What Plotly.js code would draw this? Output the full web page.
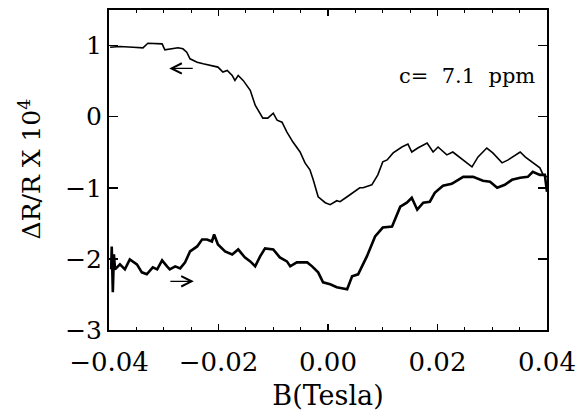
<!DOCTYPE html>
<html>
<head>
<meta charset="utf-8">
<script src="https://cdn.plot.ly/plotly-3.0.1.min.js"></script>
<style>html,body{margin:0;padding:0;background:#fff;}#chart{width:579px;height:411px;}</style>
</head>
<body>
<div id="chart"></div>
<script>
// Upper curve (sweep toward negative field, "←")
const upperB = [-0.0398,-0.0380,-0.0356,-0.0338,-0.0329,-0.0303,-0.0298,-0.0285,-0.0274,-0.0265,-0.0258,-0.0252,-0.0239,-0.0228,-0.0216,-0.0201,-0.0192,-0.0184,-0.0175,-0.0170,-0.0164,-0.0155,-0.0142,-0.0133,-0.0119,-0.0110,-0.0100,-0.0093,-0.0084,-0.0075,-0.0064,-0.0051,-0.0042,-0.0033,-0.0027,-0.0018,-0.0005,0.0004,0.0016,0.0022,0.0035,0.0046,0.0058,0.0064,0.0080,0.0091,0.0100,0.0108,0.0119,0.0135,0.0146,0.0153,0.0164,0.0181,0.0192,0.0201,0.0217,0.0228,0.0247,0.0263,0.0274,0.0290,0.0301,0.0318,0.0329,0.0351,0.0360,0.0374,0.0387,0.0393,0.0400];
const upperR = [0.976,0.986,0.976,0.968,1.032,1.024,0.940,0.954,0.968,0.954,0.906,0.814,0.766,0.744,0.720,0.697,0.627,0.650,0.580,0.510,0.580,0.510,0.371,0.161,-0.021,-0.021,0.049,-0.049,-0.077,-0.217,-0.357,-0.497,-0.650,-0.748,-0.888,-1.126,-1.210,-1.238,-1.182,-1.196,-1.126,-1.070,-1.000,-1.000,-0.958,-0.818,-0.636,-0.608,-0.510,-0.427,-0.385,-0.497,-0.441,-0.371,-0.497,-0.427,-0.538,-0.497,-0.608,-0.706,-0.566,-0.441,-0.510,-0.650,-0.608,-0.497,-0.566,-0.650,-0.720,-0.818,-0.846];

// Lower curve (sweep toward positive field, "→")
const lowerB = [-0.0396,-0.0395,-0.0393,-0.0391,-0.0389,-0.0380,-0.0371,-0.0362,-0.0349,-0.0340,-0.0331,-0.0320,-0.0312,-0.0303,-0.0294,-0.0289,-0.0279,-0.0270,-0.0261,-0.0252,-0.0239,-0.0230,-0.0221,-0.0212,-0.0208,-0.0201,-0.0188,-0.0175,-0.0164,-0.0152,-0.0142,-0.0133,-0.0124,-0.0115,-0.0100,-0.0088,-0.0075,-0.0069,-0.0057,-0.0038,-0.0029,-0.0018,-0.0009,0.0004,0.0016,0.0035,0.0044,0.0055,0.0071,0.0086,0.0100,0.0117,0.0132,0.0144,0.0153,0.0163,0.0174,0.0186,0.0195,0.0210,0.0226,0.0247,0.0265,0.0283,0.0296,0.0309,0.0323,0.0336,0.0351,0.0365,0.0374,0.0387,0.0396,0.0400];
const lowerR = [-2.147,-1.825,-2.469,-1.937,-2.147,-2.077,-2.147,-2.007,-2.077,-2.189,-2.217,-2.119,-2.147,-2.021,-2.105,-2.147,-2.105,-2.133,-2.049,-1.895,-1.825,-1.727,-1.727,-1.755,-1.657,-1.797,-1.895,-1.937,-1.867,-1.979,-2.035,-2.105,-1.965,-1.853,-1.867,-1.979,-2.035,-2.105,-2.049,-2.049,-2.105,-2.189,-2.329,-2.357,-2.399,-2.427,-2.245,-2.217,-1.965,-1.685,-1.559,-1.545,-1.266,-1.210,-1.140,-1.308,-1.210,-1.196,-1.070,-0.972,-0.944,-0.846,-0.846,-0.902,-0.916,-1.000,-0.958,-0.888,-0.860,-0.846,-0.776,-0.818,-0.818,-1.056];

const xTickVals = [-0.04,-0.02,0,0.02,0.04];
const xTickText = ['\u22120.04','\u22120.02','0.00','0.02','0.04'];
const yTickVals = [1,0,-1,-2,-3];
const yTickText = ['1','0','\u22121','\u22122','\u22123'];

const serif = 'DejaVu Serif, serif';

const traces = [
  {x: upperB, y: upperR, mode: 'lines', line: {color: '#000', width: 1.6}, hoverinfo: 'skip'},
  {x: lowerB, y: lowerR, mode: 'lines', line: {color: '#000', width: 2.6}, hoverinfo: 'skip'}
];

const layout = {
  width: 579, height: 411,
  margin: {l: 109, r: 32, t: 10, b: 81},
  paper_bgcolor: '#fff', plot_bgcolor: '#fff',
  showlegend: false,
  font: {family: serif, color: '#000'},
  xaxis: {
    range: [-0.04, 0.04],
    tickmode: 'array', tickvals: xTickVals, ticktext: xTickText,
    ticks: 'inside', ticklen: 6, tickwidth: 1.5, tickcolor: '#000',
    ticklabelstandoff: 8,
    minor: {dtick: 0.005, tick0: 0, ticks: 'inside', ticklen: 3, tickwidth: 1.2, tickcolor: '#000'},
    showline: true, linewidth: 2, linecolor: '#000', mirror: 'ticks',
    showgrid: false, zeroline: false,
    tickfont: {family: serif, size: 26, color: '#000'},
    title: {text: 'B(Tesla)', font: {family: serif, size: 27, color: '#000'}, standoff: 12},
    automargin: false
  },
  yaxis: {
    range: [-3, 1.5],
    tickmode: 'array', tickvals: yTickVals, ticktext: yTickText,
    ticks: 'inside', ticklen: 9, tickwidth: 1.5, tickcolor: '#000',
    showline: true, linewidth: 2, linecolor: '#000', mirror: 'ticks',
    showgrid: false, zeroline: false,
    tickfont: {family: serif, size: 25, color: '#000'},
    automargin: false
  },
  annotations: [
    {x: -0.1804, y: 0.505, xref: 'paper', yref: 'paper', xanchor: 'center', yanchor: 'middle', showarrow: false,
     textangle: -90, text: '\u0394R/R X 10<sup>4</sup>', font: {family: serif, size: 25, color: '#000'}},
    {x: 0.0382, y: 0.566, xref: 'x', yref: 'y', xanchor: 'right', yanchor: 'middle', showarrow: false,
     text: 'c=&nbsp;&nbsp;7.1&nbsp;&nbsp;ppm', font: {family: serif, size: 21, color: '#000'}},
    {x: -0.0290, y: 0.678, xref: 'x', yref: 'y', text: '', showarrow: true,
     ax: 25, ay: 0, arrowhead: 5, arrowsize: 1.7, arrowwidth: 1.2, arrowcolor: '#000'},
    {x: -0.0245, y: -2.315, xref: 'x', yref: 'y', text: '', showarrow: true,
     ax: -25, ay: 0, arrowhead: 5, arrowsize: 1.7, arrowwidth: 1.2, arrowcolor: '#000'}
  ]
};

Plotly.newPlot('chart', traces, layout, {displayModeBar: false, staticPlot: true});
</script>
</body>
</html>
